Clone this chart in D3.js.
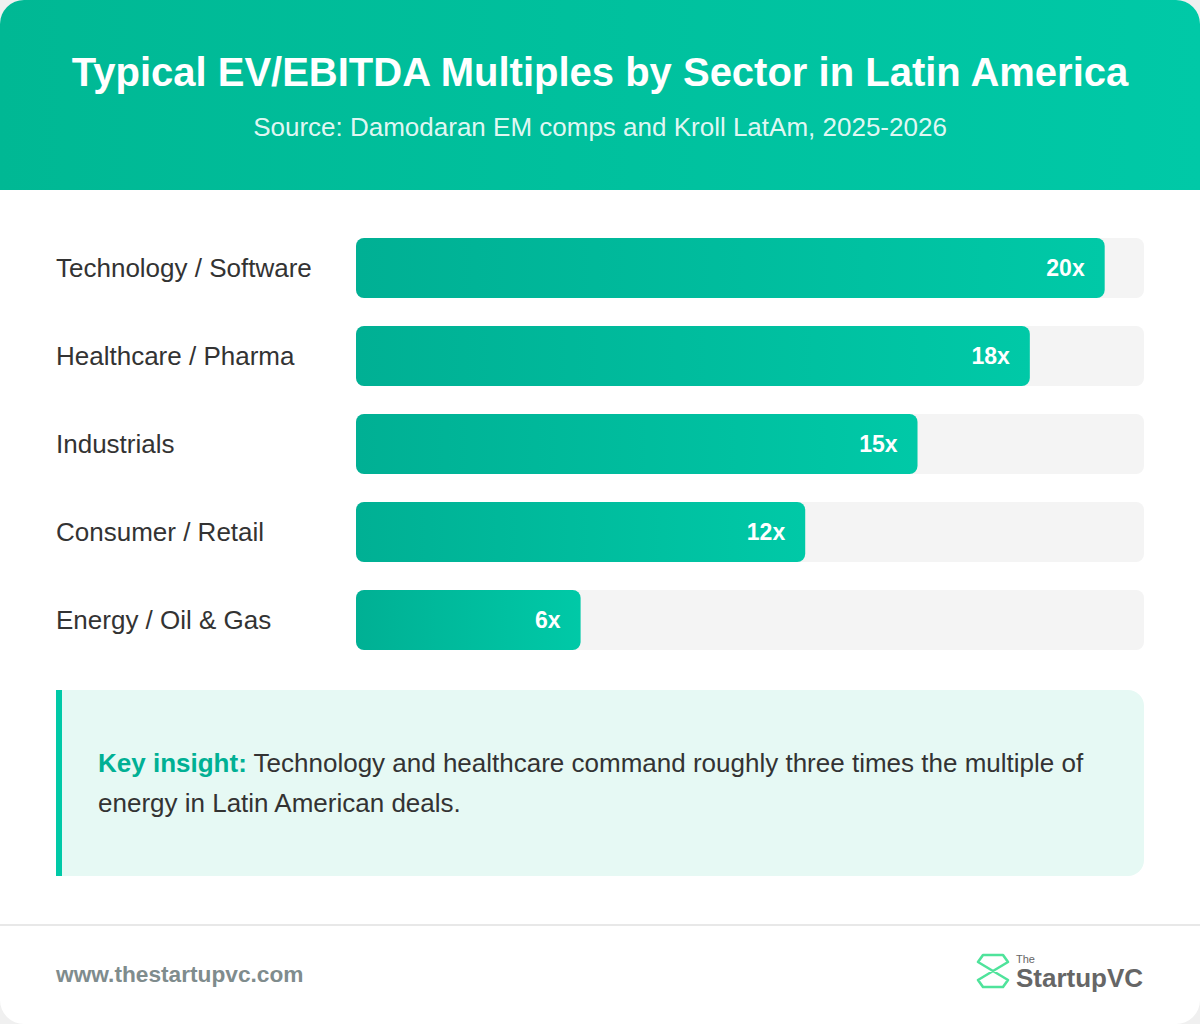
<!DOCTYPE html>
<html>
<head>
<meta charset="utf-8">
<script src="https://cdn.jsdelivr.net/npm/d3@7"></script>
<style>
  html, body { margin: 0; padding: 0; background: #f0f0f0; }
  svg { display: block; font-family: "Liberation Sans", Arial, sans-serif; }
</style>
</head>
<body>
<svg id="chart"></svg>
<script>
// data
const sectors = ["Technology / Software", "Healthcare / Pharma", "Industrials", "Consumer / Retail", "Energy / Oil & Gas"];
const multiples = [20, 18, 15, 12, 6];
const valueLabels = ["20x", "18x", "15x", "12x", "6x"];

const width = 1200;
const height = 1024;
const svg = d3.select("#chart").attr("width", width).attr("height", height);

const defs = svg.append("defs");
// header gradient
const hg = defs.append("linearGradient").attr("id", "headGrad")
  .attr("x1", "0%").attr("y1", "0%").attr("x2", "100%").attr("y2", "0%");
hg.append("stop").attr("offset", "0%").attr("stop-color", "#00b894");
hg.append("stop").attr("offset", "100%").attr("stop-color", "#00c9a7");
// bar gradient
const bg = defs.append("linearGradient").attr("id", "barGrad")
  .attr("x1", "0%").attr("y1", "0%").attr("x2", "100%").attr("y2", "0%");
bg.append("stop").attr("offset", "0%").attr("stop-color", "#00b094");
bg.append("stop").attr("offset", "100%").attr("stop-color", "#00c9a7");
defs.append("clipPath").attr("id", "cardClip")
  .append("rect").attr("width", width).attr("height", height).attr("rx", 24);

// card
const card = svg.append("g").attr("clip-path", "url(#cardClip)");
card.append("rect").attr("width", width).attr("height", height).attr("fill", "#fff");
card.append("rect").attr("width", width).attr("height", 190).attr("fill", "url(#headGrad)");

// header texts
card.append("text")
  .attr("x", width / 2).attr("y", 86)
  .attr("text-anchor", "middle")
  .attr("fill", "#fff").attr("font-size", 40).attr("font-weight", "bold")
  .text("Typical EV/EBITDA Multiples by Sector in Latin America");
card.append("text")
  .attr("x", width / 2).attr("y", 136)
  .attr("text-anchor", "middle")
  .attr("fill", "rgba(255,255,255,0.9)").attr("font-size", 26)
  .text("Source: Damodaran EM comps and Kroll LatAm, 2025-2026");

// scales
const yScale = d3.scaleBand()
  .domain(sectors)
  .range([238, 650])
  .paddingInner(28 / 88)
  .paddingOuter(0);
const xScale = d3.scaleLinear()
  .domain([0, 21.05])
  .range([356, 1144]);

const rows = card.selectAll("g.row")
  .data(sectors)
  .enter()
  .append("g")
  .attr("class", "row");

// track
rows.append("rect")
  .attr("x", xScale(0))
  .attr("y", d => yScale(d))
  .attr("width", xScale.range()[1] - xScale(0))
  .attr("height", yScale.bandwidth())
  .attr("rx", 8)
  .attr("fill", "#f4f4f4");

// bar
rows.append("rect")
  .attr("x", xScale(0))
  .attr("y", d => yScale(d))
  .attr("width", (d, i) => xScale(multiples[i]) - xScale(0))
  .attr("height", yScale.bandwidth())
  .attr("rx", 8)
  .attr("fill", "url(#barGrad)");

// sector label
rows.append("text")
  .attr("x", 56)
  .attr("y", d => yScale(d) + yScale.bandwidth() / 2)
  .attr("dy", "0.35em")
  .attr("fill", "#333")
  .attr("font-size", 26)
  .text(d => d);

// value label
rows.append("text")
  .attr("x", (d, i) => xScale(multiples[i]) - 20)
  .attr("y", d => yScale(d) + yScale.bandwidth() / 2)
  .attr("dy", "0.35em")
  .attr("text-anchor", "end")
  .attr("fill", "#fff")
  .attr("font-size", 23)
  .attr("font-weight", "bold")
  .text((d, i) => valueLabels[i]);

// insight box
const box = card.append("g");
box.append("rect")
  .attr("x", 56).attr("y", 690).attr("width", 1088).attr("height", 186)
  .attr("rx", 16).attr("fill", "#e6f9f4");
box.append("rect")
  .attr("x", 56).attr("y", 690).attr("width", 20).attr("height", 186)
  .attr("fill", "#e6f9f4");
box.append("rect")
  .attr("x", 56).attr("y", 690).attr("width", 6).attr("height", 186)
  .attr("fill", "#00c9a7");
const t1 = box.append("text").attr("x", 98).attr("y", 772)
  .attr("font-size", 26).attr("fill", "#333");
t1.append("tspan").attr("font-weight", "bold").attr("fill", "#00b094").text("Key insight:");
t1.append("tspan").text(" Technology and healthcare command roughly three times the multiple of");
box.append("text").attr("x", 98).attr("y", 812)
  .attr("font-size", 26).attr("fill", "#333")
  .text("energy in Latin American deals.");

// footer
card.append("line")
  .attr("x1", 0).attr("x2", width).attr("y1", 925).attr("y2", 925)
  .attr("stroke", "#e8e8e8").attr("stroke-width", 2);
card.append("text")
  .attr("x", 56).attr("y", 982)
  .attr("font-size", 22.7).attr("font-weight", "bold").attr("fill", "#7f8c8d")
  .text("www.thestartupvc.com");

// logo
const logo = card.append("g").attr("transform", "translate(977,954)");
logo.append("path")
  .attr("d", "M6,1 H26 L31,8 L16,17 L1,8 Z M1,26 L16,17 L31,26 L26,33 H6 Z M1,8 L31,26 M31,8 L1,26")
  .attr("fill", "none").attr("stroke", "#4fe39b").attr("stroke-width", 2.6)
  .attr("stroke-linejoin", "round");
card.append("text")
  .attr("x", 1016).attr("y", 963)
  .attr("font-size", 11).attr("fill", "#666")
  .text("The");
card.append("text")
  .attr("x", 1016).attr("y", 987)
  .attr("font-size", 26).attr("font-weight", "bold").attr("fill", "#666")
  .text("StartupVC");
</script>
</body>
</html>
